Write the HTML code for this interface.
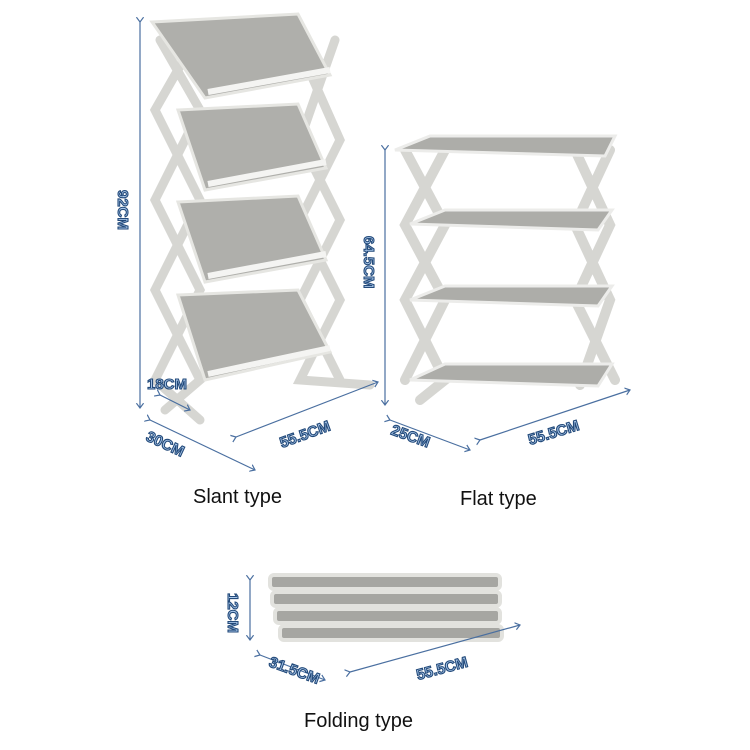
<!DOCTYPE html>
<html><head><style>
body{margin:0;background:#fff;width:750px;height:750px;overflow:hidden;font-family:"Liberation Sans",sans-serif}
.cap{position:absolute;font-size:20px;color:#111}
</style></head><body>
<svg width="750" height="750" style="position:absolute;left:0;top:0">
<defs>
<marker id="a" markerWidth="8" markerHeight="8" refX="4" refY="4" orient="auto"><path d="M0,1 L4,4 L0,7" fill="none" stroke="#4a6fa0" stroke-width="1"/></marker>
</defs>
<g stroke="#d6d6d2" stroke-width="9" fill="none" stroke-linecap="round">
<path d="M160,40 L200,110 L155,200 L200,290 L155,380 L200,420"/>
<path d="M195,40 L155,110 L200,200 L155,290 L200,380 L165,410"/>
<path d="M300,50 L340,140 L300,220 L340,300 L300,380 L370,385"/>
<path d="M335,40 L300,140 L340,220 L300,300 L340,380"/>
</g>
<g fill="#afafab" stroke="#e6e6e2" stroke-width="3">
<polygon points="152,22 298,14 330,75 205,98"/>
<polygon points="178,110 298,104 326,168 205,190"/>
<polygon points="178,202 298,196 326,260 205,282"/>
<polygon points="178,295 298,290 330,352 205,380"/>
</g>
<g stroke="#f4f4f2" stroke-width="6" fill="none">
<path d="M208,92 L330,70"/><path d="M208,184 L326,162"/><path d="M208,276 L326,254"/><path d="M208,374 L330,348"/>
</g>
<g stroke="#d6d6d2" stroke-width="10" fill="none" stroke-linecap="round">
<path d="M405,150 L445,225 L405,300 L445,380 L420,400"/>
<path d="M445,150 L405,225 L445,300 L405,380"/>
<path d="M575,150 L610,225 L575,300 L615,380"/>
<path d="M610,150 L575,225 L610,300 L580,385"/>
</g>
<g fill="#acacа8" stroke="#ececea" stroke-width="3">
<polygon points="395,150 430,136 615,136 605,156" fill="#adada9"/>
<polygon points="410,224 445,210 612,210 598,230" fill="#adada9"/>
<polygon points="410,300 445,286 612,286 598,306" fill="#adada9"/>
<polygon points="410,380 445,364 612,364 598,386" fill="#adada9"/>
</g>
<g fill="#a6a6a2" stroke="#e2e2de" stroke-width="4">
<rect x="270" y="575" width="230" height="14" rx="4"/>
<rect x="272" y="592" width="228" height="14" rx="4"/>
<rect x="275" y="609" width="225" height="14" rx="4"/>
<rect x="280" y="626" width="222" height="14" rx="4"/>
</g>
<g stroke="#4a6fa0" stroke-width="1.2" marker-start="url(#a)" marker-end="url(#a)">
<line x1="140" y1="22" x2="140" y2="408"/>
<line x1="150" y1="420" x2="255" y2="470"/>
<line x1="160" y1="395" x2="190" y2="410"/>
<line x1="236" y1="437" x2="378" y2="382"/>
<line x1="385" y1="150" x2="385" y2="405"/>
<line x1="390" y1="420" x2="470" y2="450"/>
<line x1="480" y1="440" x2="630" y2="390"/>
<line x1="250" y1="580" x2="250" y2="640"/>
<line x1="260" y1="655" x2="325" y2="680"/>
<line x1="350" y1="672" x2="520" y2="625"/>
</g>
<g font-family="Liberation Sans,sans-serif" font-weight="bold" font-size="15" fill="#a9c7ea" stroke="#234a7a" stroke-width="1.1">
<text transform="translate(118,190) rotate(90)">92CM</text>
<text x="147" y="389">18CM</text>
<text transform="translate(145,440) rotate(25)">30CM</text>
<text transform="translate(282,448) rotate(-20)">55.5CM</text>
<text transform="translate(364,236) rotate(90)">64.5CM</text>
<text transform="translate(390,434) rotate(20)">25CM</text>
<text transform="translate(530,445) rotate(-17)">55.5CM</text>
<text transform="translate(228,593) rotate(90)">12CM</text>
<text transform="translate(268,666) rotate(20)">31.5CM</text>
<text transform="translate(418,680) rotate(-15)">55.5CM</text>
</g>
</svg>
<div class="cap" style="left:193px;top:486px">Slant type</div>
<div class="cap" style="left:460px;top:488px">Flat type</div>
<div class="cap" style="left:304px;top:710px">Folding type</div>
</body></html>
